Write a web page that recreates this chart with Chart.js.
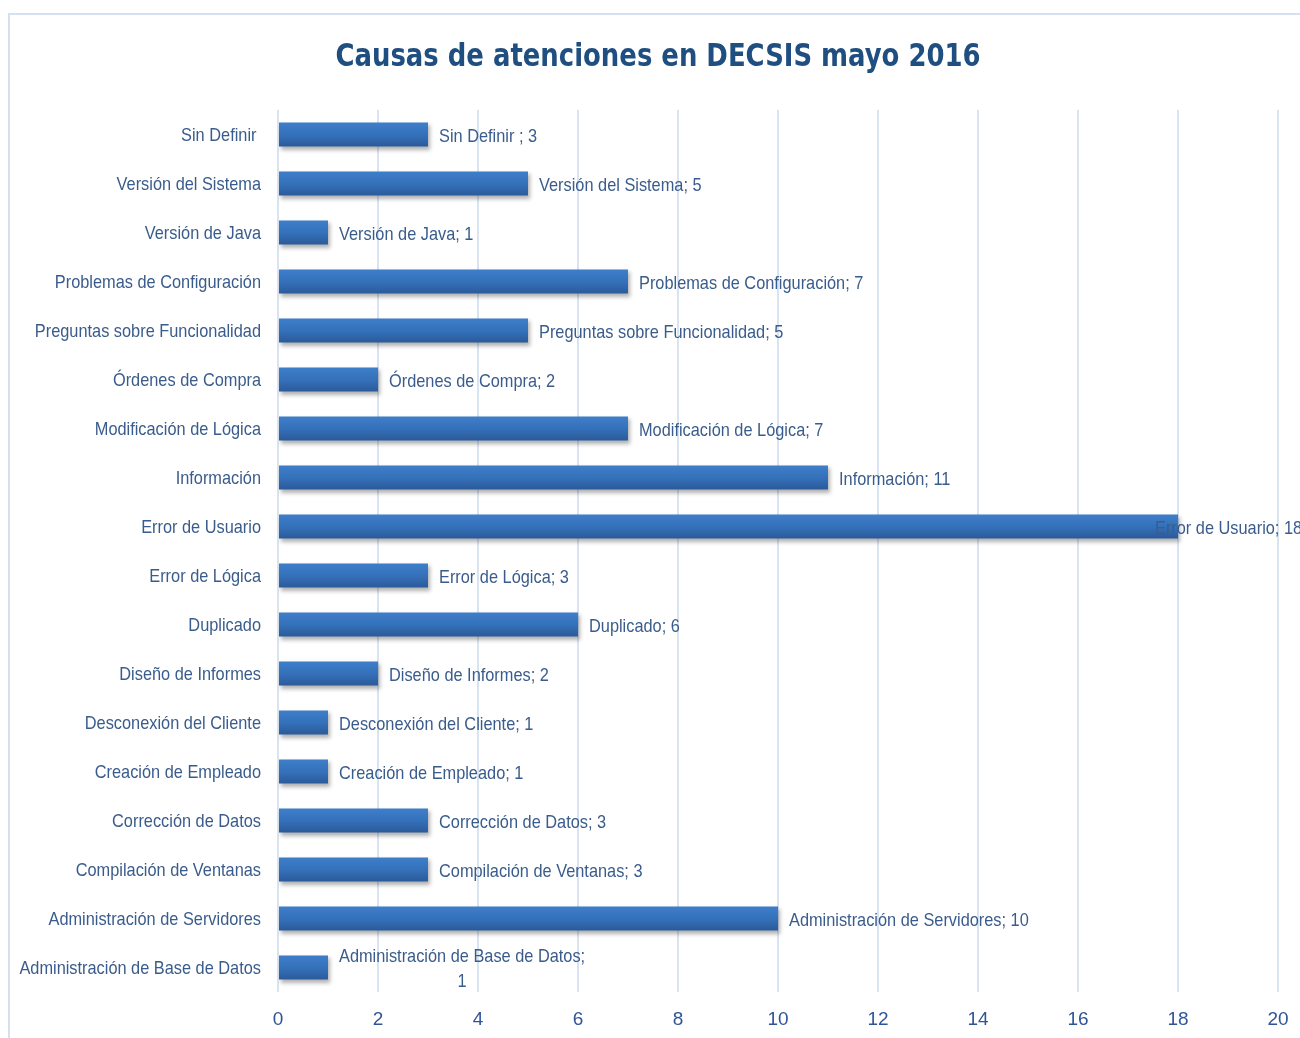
<!DOCTYPE html>
<html>
<head>
<meta charset="utf-8">
<script src="https://cdn.jsdelivr.net/npm/chart.js@4/dist/chart.umd.min.js"></script>
<style>
  body { margin: 0; background: #fff; }
  #wrap { width: 1300px; height: 1038px; position: relative; }
</style>
</head>
<body>
<div id="wrap"><canvas id="chart"></canvas></div>
<script>
const TITLE = 'Causas de atenciones en DECSIS mayo 2016';
const categories = [
  'Sin Definir ', 'Versión del Sistema', 'Versión de Java', 'Problemas de Configuración',
  'Preguntas sobre Funcionalidad', 'Órdenes de Compra', 'Modificación de Lógica', 'Información',
  'Error de Usuario', 'Error de Lógica', 'Duplicado', 'Diseño de Informes',
  'Desconexión del Cliente', 'Creación de Empleado', 'Corrección de Datos',
  'Compilación de Ventanas', 'Administración de Servidores', 'Administración de Base de Datos'
];
const counts = [3, 5, 1, 7, 5, 2, 7, 11, 18, 3, 6, 2, 1, 1, 3, 3, 10, 1];
const xMin = 0, xMax = 20, xStep = 2;

const TITLE_FONT = "'DejaVu Sans Condensed', 'Liberation Sans', sans-serif";
const FONT = "'Liberation Sans', Arial, sans-serif";
const LABEL_COLOR = '#3A5C8C';
const SX = 0.86; // the original text is narrower than any installed face

// draw a string squeezed horizontally
function squeezed(ctx, text, x, y, align, sx) {
  ctx.save();
  ctx.translate(x, y);
  ctx.scale(sx, 1);
  ctx.textAlign = align;
  ctx.fillText(text, 0, 0);
  ctx.restore();
}

// frame + title
const framePlugin = {
  id: 'frame',
  beforeDraw(chart) {
    const ctx = chart.ctx;
    ctx.save();
    ctx.strokeStyle = '#D5E1F0';
    ctx.lineWidth = 2;
    ctx.beginPath();
    ctx.moveTo(9, chart.height);
    ctx.lineTo(9, 14);
    ctx.lineTo(chart.width, 14);
    ctx.stroke();
    ctx.fillStyle = '#1F4E80';
    ctx.font = 'bold 32px ' + TITLE_FONT;
    ctx.textBaseline = 'middle';
    squeezed(ctx, TITLE, 658, 58, 'center', 0.9);
    ctx.restore();
  }
};

// category names on the y axis
const catLabels = {
  id: 'catLabels',
  afterDraw(chart) {
    const ctx = chart.ctx;
    const y = chart.scales.y;
    ctx.save();
    ctx.font = '19px ' + FONT;
    ctx.fillStyle = LABEL_COLOR;
    ctx.textBaseline = 'middle';
    categories.forEach((c, i) => squeezed(ctx, c, y.right - 17, y.getPixelForValue(i) + 1, 'right', SX));
    ctx.restore();
  }
};

// soft shadow under bars
const shadowPlugin = {
  id: 'barShadow',
  beforeDatasetsDraw(chart) {
    const ctx = chart.ctx;
    ctx.save();
    ctx.shadowColor = 'rgba(0,0,0,0.3)';
    ctx.shadowOffsetX = 2;
    ctx.shadowOffsetY = 3;
    ctx.shadowBlur = 4;
  },
  afterDatasetsDraw(chart) {
    chart.ctx.restore();
  }
};

// "Categoria; valor" labels next to bars
const valueLabels = {
  id: 'valueLabels',
  afterDatasetsDraw(chart) {
    const ctx = chart.ctx;
    const meta = chart.getDatasetMeta(0);
    ctx.save();
    ctx.font = '19px ' + FONT;
    ctx.fillStyle = LABEL_COLOR;
    ctx.textBaseline = 'middle';
    meta.data.forEach((bar, i) => {
      const text = categories[i] + '; ' + counts[i];
      let x = bar.x + 11;
      const w = ctx.measureText(text).width * SX;
      if (w > 249) {
        const line1 = categories[i] + ';';
        const w1 = ctx.measureText(line1).width * SX;
        squeezed(ctx, line1, x + w1 / 2, bar.y - 11, 'center', SX);
        squeezed(ctx, String(counts[i]), x + w1 / 2, bar.y + 14, 'center', SX);
        return;
      }
      if (x + w > chart.width) x = bar.x - 23;
      squeezed(ctx, text, x, bar.y + 2, 'left', SX);
    });
    ctx.restore();
  }
};

function barFill(c) {
  const chart = c.chart;
  if (c.type !== 'data' || !chart.scales || !chart.scales.y) return '#3570B8';
  const y = chart.scales.y.getPixelForValue(c.dataIndex);
  if (!isFinite(y)) return '#3570B8';
  const g = chart.ctx.createLinearGradient(0, y - 12, 0, y + 12);
  g.addColorStop(0, '#3E7EC9');
  g.addColorStop(0.5, '#3571BB');
  g.addColorStop(1, '#2B5A99');
  return g;
}

new Chart(document.getElementById('chart'), {
  type: 'bar',
  data: {
    labels: categories,
    datasets: [{
      data: counts,
      backgroundColor: barFill,
      borderWidth: 0,
      barPercentage: 0.7,
      categoryPercentage: 0.7
    }]
  },
  options: {
    indexAxis: 'y',
    responsive: true,
    maintainAspectRatio: false,
    animation: false,
    layout: { padding: { left: 0, right: 22, top: 110, bottom: 0 } },
    plugins: {
      legend: { display: false },
      title: { display: false },
      tooltip: { enabled: false }
    },
    scales: {
      x: {
        min: xMin,
        max: xMax,
        ticks: { stepSize: xStep, color: '#2F5597', font: { family: FONT, size: 19 }, padding: 16 },
        grid: { color: '#D9E4F3', lineWidth: 2, drawTicks: false },
        border: { display: false },
        afterFit(scale) {
          scale.height = 46;
          scale.paddingLeft = 0;
          scale.paddingRight = 0;
        }
      },
      y: {
        ticks: { display: false },
        grid: { display: false, drawTicks: false },
        border: { display: false },
        afterFit(scale) { scale.width = 278; }
      }
    }
  },
  plugins: [framePlugin, shadowPlugin, valueLabels, catLabels]
});
</script>
</body>
</html>
